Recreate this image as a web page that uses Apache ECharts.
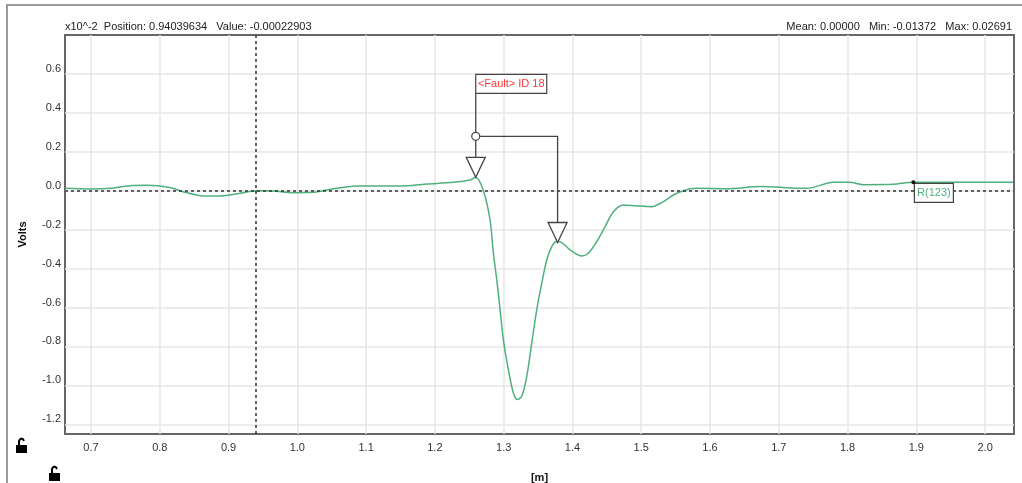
<!DOCTYPE html>
<html>
<head>
<meta charset="utf-8">
<script src="https://cdn.jsdelivr.net/npm/echarts@6/dist/echarts.min.js"></script>
<style>
html,body{margin:0;padding:0;background:#fff;}
#c{width:1022px;height:483px;}
</style>
</head>
<body>
<div id="c"></div>
<script>
// ---- data ----
const positions = [0.6622, 0.6985, 0.7276, 0.7567, 0.7814, 0.8149, 0.8338, 0.8629, 0.8876, 0.9167,
  0.9414, 0.9647, 0.9937, 1.0228, 1.0432, 1.0868, 1.1159, 1.1595, 1.1886, 1.2264,
  1.2512, 1.2594, 1.2705, 1.2802, 1.2850, 1.2900, 1.2948, 1.2996, 1.3068, 1.3141,
  1.3199, 1.3263, 1.3336, 1.3408, 1.3481, 1.3554, 1.3627, 1.3699, 1.3772, 1.3845,
  1.3965, 1.4135, 1.4231, 1.4354, 1.4474, 1.4595, 1.4740, 1.4935, 1.5153, 1.5322,
  1.5467, 1.5613, 1.5808, 1.6244, 1.6728, 1.7407, 1.7794, 1.8036, 1.8230, 1.8666,
  1.8957, 1.9491, 2.0407];
const volts = [0.012, 0.009, 0.012, 0.026, 0.028, 0.017, -0.005, -0.027, -0.027, -0.013,
  0.000, -0.002, -0.010, -0.008, 0.004, 0.024, 0.024, 0.026, 0.034, 0.043,
  0.055, 0.069, 0.000, -0.150, -0.321, -0.458, -0.612, -0.766, -0.919, -1.039,
  -1.073, -1.056, -0.954, -0.783, -0.612, -0.475, -0.355, -0.287, -0.261, -0.267,
  -0.304, -0.335, -0.321, -0.261, -0.185, -0.108, -0.073, -0.078, -0.082, -0.056,
  -0.022, 0.000, 0.012, 0.010, 0.021, 0.012, 0.043, 0.043, 0.031, 0.033,
  0.043, 0.043, 0.043];
const xTicks = [0.7, 0.8, 0.9, 1.0, 1.1, 1.2, 1.3, 1.4, 1.5, 1.6, 1.7, 1.8, 1.9, 2.0];
const yTicks = [-1.2, -1.0, -0.8, -0.6, -0.4, -0.2, 0.0, 0.2, 0.4, 0.6];
const xRange = [0.6622, 2.042];
const yRange = [-1.25, 0.8];
const cursorPosition = 0.94039634;
const cursorValue = -0.00022903;
const faultPoints = [[1.2594, 0.069], [1.3784, -0.266]];
const faultLabel = '<Fault> ID 18';
const refPoint = [1.8957, 0.043];
const refLabel = 'R(123)';
const headerLeft = 'x10^-2  Position: 0.94039634   Value: -0.00022903';
const headerRight = 'Mean: 0.00000   Min: -0.01372   Max: 0.02691';
const xName = '[m]';
const yName = 'Volts';

// ---- chart ----
const FONT = 'Liberation Sans, Arial, sans-serif';
const chart = echarts.init(document.getElementById('c'), null, {renderer: 'canvas'});
const lineData = positions.map((x, i) => [x, volts[i]]);

function lockIcon(x, y) {
  return {
    type: 'group', x: x, y: y, silent: true,
    children: [
      {type: 'rect', shape: {x: 0, y: 7, width: 11, height: 8}, style: {fill: '#000'}},
      {type: 'polyline', shape: {points: [[3, 7], [3, 3], [4, 1.2], [5.5, 0.6], [7, 1.2], [8, 3]]}, style: {fill: null, stroke: '#000', lineWidth: 2}}
    ]
  };
}

const option = {
  backgroundColor: '#fff',
  animation: false,
  grid: {left: 65, top: 35, right: 8, bottom: 49, show: true, borderColor: '#666', borderWidth: 2, backgroundColor: '#fff', z: 0,
    containLabel: false, outerBoundsMode: 'none'},
  xAxis: {
    type: 'value', min: xRange[0], max: xRange[1],
    name: xName, nameLocation: 'middle', nameGap: 38,
    nameTextStyle: {fontFamily: FONT, fontSize: 11, fontWeight: 'bold', color: '#111'},
    axisLine: {show: false},
    axisTick: {show: false, customValues: xTicks},
    axisLabel: {customValues: xTicks, formatter: v => v.toFixed(1), fontFamily: FONT, fontSize: 11, color: '#333', margin: 8},
    splitLine: {show: true, lineStyle: {color: '#e6e6e6', width: 1.5}}
  },
  yAxis: {
    type: 'value', min: yRange[0], max: yRange[1],
    name: yName, nameLocation: 'middle', nameGap: 37,
    nameTextStyle: {fontFamily: FONT, fontSize: 11, fontWeight: 'bold', color: '#111'},
    axisLine: {show: false},
    axisTick: {show: false, customValues: yTicks},
    axisLabel: {customValues: yTicks, formatter: v => v.toFixed(1), fontFamily: FONT, fontSize: 11, color: '#333', margin: 4, verticalAlign: 'bottom', lineHeight: 10},
    splitLine: {show: true, lineStyle: {color: '#e6e6e6', width: 1.5}}
  },
  graphic: [
    {type: 'rect', shape: {x: 7, y: 5, width: 1030, height: 500}, style: {fill: null, stroke: '#9a9a9a', lineWidth: 2}, silent: true, z: -10},
    {type: 'text', x: 65, y: 21, style: {text: headerLeft, font: '11px ' + FONT, fill: '#222'}, silent: true},
    {type: 'text', x: 1012, y: 21, style: {text: headerRight, font: '11px ' + FONT, fill: '#222', align: 'right'}, silent: true},
    lockIcon(16, 438),
    lockIcon(49, 466)
  ],
  series: [
    {
      type: 'line', data: lineData, showSymbol: false, smooth: 0.3, z: 2,
      lineStyle: {color: '#4fb07e', width: 1.5},
      markLine: {
        silent: true, symbol: 'none', label: {show: false},
        lineStyle: {color: '#333', type: [3, 3], width: 1.5},
        data: [{xAxis: cursorPosition}, {yAxis: cursorValue}]
      }
    },
    {
      type: 'custom', z: 5, clip: false,
      data: [faultPoints[0]],
      renderItem: function (params, api) {
        const p1 = api.coord(faultPoints[0]);
        const p2 = api.coord(faultPoints[1]);
        const r = api.coord(refPoint);
        const triH = 20, triW = 19, stroke = '#444';
        const hubY = p1[1] - 41;
        const boxBottom = p1[1] - 84, boxH = 19, boxW = 71;
        const tri = p => ({type: 'polygon', shape: {points: [[p[0] - triW / 2, p[1] - triH], [p[0] + triW / 2, p[1] - triH], [p[0], p[1]]]}, style: {fill: '#fff', stroke: stroke, lineWidth: 1.3}});
        return {
          type: 'group',
          children: [
            {type: 'polyline', shape: {points: [[p1[0], p1[1] - triH], [p1[0], boxBottom]]}, style: {stroke: stroke, fill: null, lineWidth: 1.3}},
            {type: 'polyline', shape: {points: [[p1[0], hubY], [p2[0], hubY], [p2[0], p2[1] - triH]]}, style: {stroke: stroke, fill: null, lineWidth: 1.3}},
            tri(p1), tri(p2),
            {type: 'circle', shape: {cx: p1[0], cy: hubY, r: 4}, style: {fill: '#fff', stroke: stroke, lineWidth: 1.2}},
            {type: 'rect', shape: {x: p1[0], y: boxBottom - boxH, width: boxW, height: boxH}, style: {fill: '#fff', stroke: stroke, lineWidth: 1.2}},
            {type: 'text', style: {text: faultLabel, x: p1[0] + boxW / 2, y: boxBottom - boxH / 2, align: 'center', verticalAlign: 'middle', fill: '#ff3b3b', font: '11px ' + FONT}},
            {type: 'rect', shape: {x: r[0] + 1, y: r[1] + 1, width: 39, height: 19}, style: {fill: '#fff', stroke: stroke, lineWidth: 1.2}},
            {type: 'text', style: {text: refLabel, x: r[0] + 20.5, y: r[1] + 10.5, align: 'center', verticalAlign: 'middle', fill: '#4fb07e', font: '11px ' + FONT}},
            {type: 'circle', shape: {cx: r[0], cy: r[1], r: 2}, style: {fill: '#111'}}
          ]
        };
      }
    }
  ]
};
chart.setOption(option);
</script>
</body>
</html>
